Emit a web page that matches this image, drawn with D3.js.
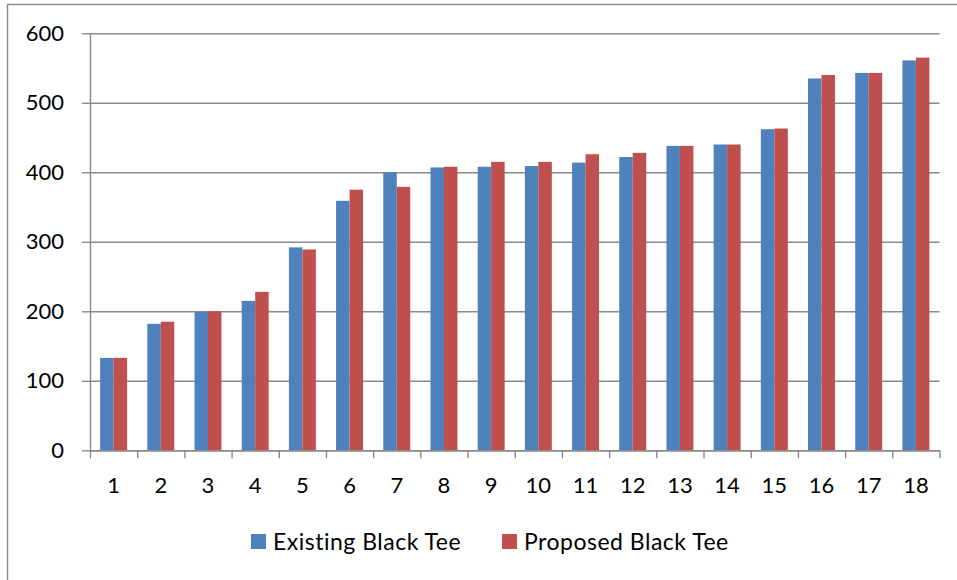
<!DOCTYPE html>
<html>
<head>
<meta charset="utf-8">
<script src="https://cdn.jsdelivr.net/npm/d3@7/dist/d3.min.js"></script>
<style>
  html, body { margin: 0; padding: 0; background: #fff; }
  svg text { font-family: Lato, "Open Sans", sans-serif; fill: #000; }
</style>
</head>
<body>
<div id="chart"></div>
<script>
// hole numbers and yardages
var holes = ["1", "2", "3", "4", "5", "6", "7", "8", "9", "10", "11", "12", "13", "14", "15", "16", "17", "18"];
var seriesNames = ["Existing Black Tee", "Proposed Black Tee"];
var existing = [133, 182, 199, 215, 292, 359, 400, 407, 408, 409, 414, 422, 438, 440, 462, 535, 543, 561];
var proposed = [133, 185, 200, 228, 289, 375, 379, 408, 415, 415, 426, 428, 438, 440, 463, 540, 543, 565];
var yTicks = [0, 100, 200, 300, 400, 500, 600];
var colors = ["#4f81bd", "#c0504d"];

var width = 957, height = 580;
var plotLeft = 90, plotRight = 939.5, plotTop = 33.3, plotBottom = 450.3;
var gridColor = "#8a8a8a";

var svg = d3.select("#chart").append("svg")
    .attr("width", width)
    .attr("height", height);

// outer chart border (only top and left visible)
svg.append("rect")
    .attr("x", 7.5).attr("y", 4.5)
    .attr("width", 1000).attr("height", 1000)
    .attr("fill", "none")
    .attr("stroke", gridColor)
    .attr("stroke-width", 1.4);

var y = d3.scaleLinear().domain([0, 600]).range([plotBottom, plotTop]);
var x0 = d3.scaleBand().domain(holes).range([plotLeft, plotRight]).padding(0);
var x1 = d3.scaleBand().domain([0, 1]).range([0, x0.bandwidth()]).paddingInner(0).paddingOuter(0.75);
var xEdges = d3.scaleLinear().domain([0, holes.length]).range([plotLeft, plotRight]);

// gridlines
svg.append("g")
    .attr("transform", "translate(" + plotLeft + ",0)")
    .call(d3.axisLeft(y).tickValues(yTicks).tickSize(-(plotRight - plotLeft)).tickFormat(""))
    .call(function(g) {
        g.select(".domain").remove();
        g.selectAll("line").attr("stroke", gridColor).attr("stroke-width", 1.4);
    });

// bars
var rows = holes.map(function(h, i) { return { hole: h, vals: [existing[i], proposed[i]] }; });

var groups = svg.append("g").selectAll("g")
    .data(rows)
    .enter().append("g")
    .attr("transform", function(d) { return "translate(" + x0(d.hole) + ",0)"; });

groups.selectAll("rect")
    .data(function(d) { return d.vals.map(function(v, k) { return { k: k, v: v }; }); })
    .enter().append("rect")
    .attr("x", function(d) { return x1(d.k); })
    .attr("width", x1.bandwidth())
    .attr("y", function(d) { return y(d.v); })
    .attr("height", function(d) { return y(0) - y(d.v); })
    .attr("fill", function(d) { return colors[d.k]; });

// y axis
svg.append("g")
    .attr("transform", "translate(" + plotLeft + ",0)")
    .call(d3.axisLeft(y).tickValues(yTicks).tickSizeInner(8).tickSizeOuter(0).tickPadding(18))
    .call(function(g) {
        g.select(".domain").attr("stroke", gridColor).attr("stroke-width", 1.4);
        g.selectAll("line").attr("stroke", gridColor).attr("stroke-width", 1.4);
        g.selectAll("text").attr("font-size", 22).attr("font-family", "Lato, sans-serif").attr("fill", "#000");
    });

// x axis boundary ticks
svg.append("g")
    .attr("transform", "translate(0," + plotBottom + ")")
    .call(d3.axisBottom(xEdges).tickValues(d3.range(holes.length + 1)).tickSizeInner(8).tickSizeOuter(0).tickFormat(""))
    .call(function(g) {
        g.select(".domain").attr("stroke", gridColor).attr("stroke-width", 1.4);
        g.selectAll("line").attr("stroke", gridColor).attr("stroke-width", 1.4);
    });

// x axis labels
svg.append("g")
    .attr("transform", "translate(0," + plotBottom + ")")
    .call(d3.axisBottom(x0).tickSize(0).tickPadding(27))
    .call(function(g) {
        g.select(".domain").remove();
        g.selectAll("text").attr("font-size", 22).attr("font-family", "Lato, sans-serif").attr("fill", "#000");
    });

// legend
var legendX = [251, 502];
var legend = svg.append("g").selectAll("g")
    .data(seriesNames)
    .enter().append("g")
    .attr("transform", function(d, i) { return "translate(" + legendX[i] + ",534)"; });

legend.append("rect")
    .attr("width", 15).attr("height", 15)
    .attr("fill", function(d, i) { return colors[i]; });

legend.append("text")
    .attr("x", 22).attr("y", 15.5)
    .attr("font-size", 23)
    .attr("letter-spacing", 0.5)
    .text(function(d) { return d; });
</script>
</body>
</html>
